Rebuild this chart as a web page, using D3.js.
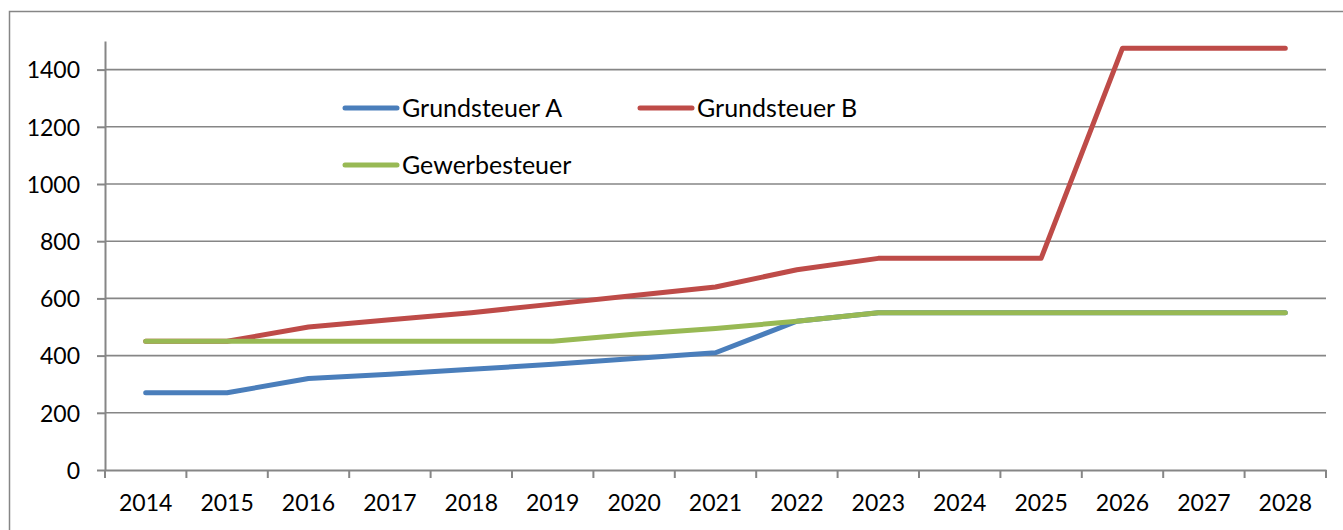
<!DOCTYPE html>
<html>
<head>
<meta charset="utf-8">
<script src="https://cdn.jsdelivr.net/npm/d3@7"></script>
<style>
  body { margin: 0; background: #fff; }
  svg { display: block; font-family: Lato, "Open Sans", sans-serif; }
</style>
</head>
<body>
<svg id="chart" width="1343" height="530"></svg>
<script>
const years = ["2014", "2015", "2016", "2017", "2018", "2019", "2020", "2021", "2022", "2023", "2024", "2025", "2026", "2027", "2028"];
const grundsteuerA = [270, 270, 320, 335, 352, 370, 390, 410, 520, 550, 550, 550, 550, 550, 550];
const grundsteuerB = [450, 450, 500, 525, 550, 580, 610, 640, 700, 740, 740, 740, 1475, 1475, 1475];
const gewerbesteuer = [450, 450, 450, 450, 450, 450, 475, 495, 520, 550, 550, 550, 550, 550, 550];
const yTicks = [0, 200, 400, 600, 800, 1000, 1200, 1400];

const series = [
    { name: "Grundsteuer A", values: grundsteuerA, color: "#4a7ebb" },
    { name: "Grundsteuer B", values: grundsteuerB, color: "#be4b48" },
    { name: "Gewerbesteuer", values: gewerbesteuer, color: "#98b954" }
];

const svg = d3.select("#chart");
const gridColor = "#868686";

// outer chart frame (runs off the right and bottom edge)
svg.append("rect")
    .attr("x", 9.5)
    .attr("y", 11.5)
    .attr("width", 1400)
    .attr("height", 600)
    .attr("fill", "none")
    .attr("stroke", gridColor)
    .attr("stroke-width", 1.5);

const xScale = d3.scaleBand()
    .domain(years)
    .range([105, 1326])
    .padding(0);

const yScale = d3.scaleLinear()
    .domain([0, 1500])
    .range([470, 41]);

// horizontal gridlines
svg.append("g")
    .selectAll("line")
    .data(yTicks.filter(d => d > 0))
    .join("line")
    .attr("x1", 105)
    .attr("x2", 1326)
    .attr("y1", d => yScale(d))
    .attr("y2", d => yScale(d))
    .attr("stroke", gridColor)
    .attr("stroke-width", 1.6);

// y axis
const yAxis = d3.axisLeft(yScale)
    .tickValues(yTicks)
    .tickFormat(d3.format("d"))
    .tickSize(8)
    .tickPadding(17)
    .tickSizeOuter(0);

const gy = svg.append("g")
    .attr("transform", "translate(105,0)")
    .call(yAxis);

// x axis, ticks between the categories
const xAxis = d3.axisBottom(xScale)
    .tickSize(0)
    .tickPadding(25)
    .tickSizeOuter(0);

const gx = svg.append("g")
    .attr("transform", "translate(0,470)")
    .call(xAxis);

gx.selectAll(".tick-mark")
    .data(years.concat(["end"]))
    .join("line")
    .attr("class", "tick-mark")
    .attr("x1", (d, i) => i < years.length ? xScale(d) : xScale.range()[1])
    .attr("x2", (d, i) => i < years.length ? xScale(d) : xScale.range()[1])
    .attr("y1", 0)
    .attr("y2", 8)
    .attr("stroke", gridColor)
    .attr("stroke-width", 2);

[gx, gy].forEach(g => {
    g.select(".domain").attr("stroke", gridColor).attr("stroke-width", 2);
    g.selectAll(".tick line").attr("stroke", gridColor).attr("stroke-width", 2);
    g.selectAll(".tick text")
        .attr("fill", "#000")
        .style("font-family", "Lato, sans-serif")
        .style("font-size", "23px");
});
gy.selectAll(".tick text").attr("dy", "0.36em");
gx.selectAll(".tick text").attr("dy", "0.71em");

// lines
const lineGenerator = d3.line()
    .x((d, i) => xScale(years[i]) + xScale.bandwidth() / 2)
    .y(d => yScale(d));

svg.append("g")
    .selectAll("path")
    .data(series)
    .join("path")
    .attr("d", d => lineGenerator(d.values))
    .attr("fill", "none")
    .attr("stroke", d => d.color)
    .attr("stroke-width", 5)
    .attr("stroke-linejoin", "round")
    .attr("stroke-linecap", "round");

// legend
const legendPos = [
    { x: 345, y: 108 },
    { x: 640, y: 108 },
    { x: 345, y: 165 }
];

const legend = svg.append("g")
    .selectAll("g")
    .data(series)
    .join("g")
    .attr("transform", (d, i) => `translate(${legendPos[i].x},${legendPos[i].y})`);

legend.append("line")
    .attr("x1", 0)
    .attr("x2", 52)
    .attr("stroke", d => d.color)
    .attr("stroke-width", 5)
    .attr("stroke-linecap", "round");

legend.append("text")
    .attr("x", 57)
    .attr("y", 0)
    .attr("dy", "0.36em")
    .style("font-size", "25px")
    .text(d => d.name);
</script>
</body>
</html>
